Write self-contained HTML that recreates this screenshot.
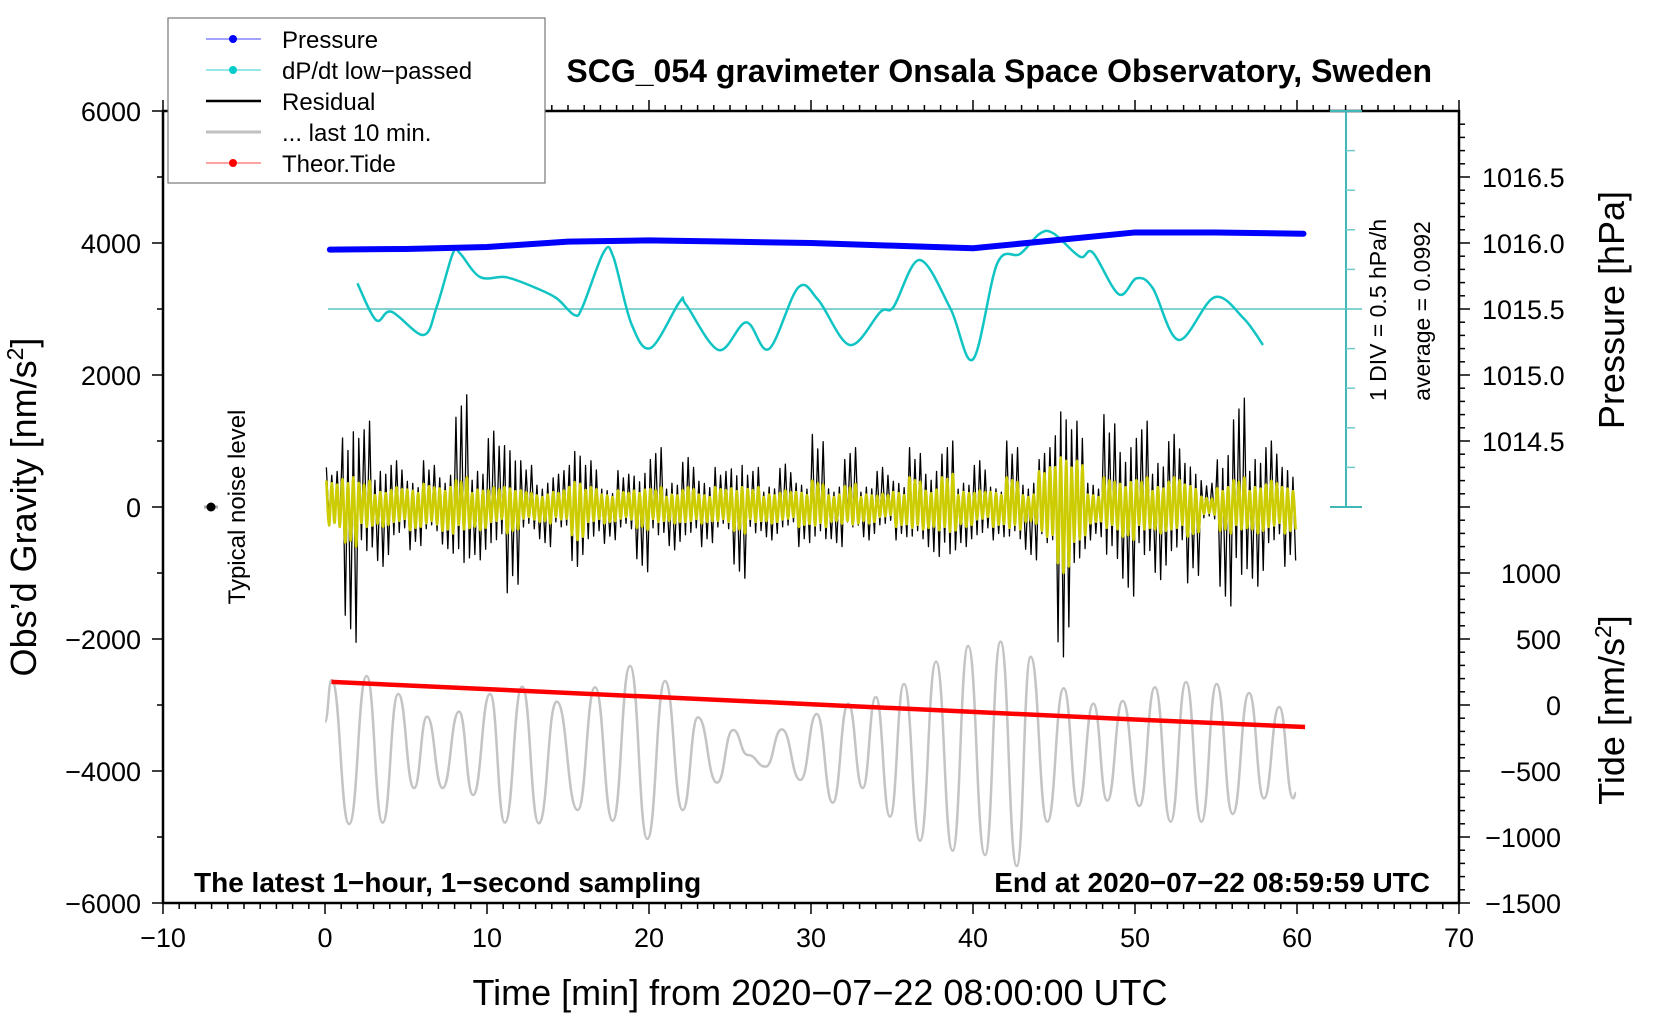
<!DOCTYPE html>
<html><head><meta charset="utf-8"><style>
body{margin:0;background:#fff}
svg{display:block;font-family:"Liberation Sans",Arial,sans-serif}
</style></head><body>
<svg id="chart" width="1660" height="1020" viewBox="0 0 1660 1020">
<g id="axes"></g>
<g id="series"></g>
<text x="1432" y="82" text-anchor="end" font-size="32" font-weight="bold">SCG_054 gravimeter Onsala Space Observatory, Sweden</text>
<text x="194" y="892" font-size="28" font-weight="bold">The latest 1−hour, 1−second sampling</text>
<text x="1430" y="892" text-anchor="end" font-size="28" font-weight="bold">End at 2020−07−22 08:59:59 UTC</text>
<text x="820" y="1005" text-anchor="middle" font-size="36">Time [min] from 2020−07−22 08:00:00 UTC</text>
<text transform="translate(36,507) rotate(-90)" text-anchor="middle" font-size="36">Obs’d Gravity [nm/s<tspan baseline-shift="super" font-size="23">2</tspan>]</text>
<text transform="translate(1624,310) rotate(-90)" text-anchor="middle" font-size="36">Pressure [hPa]</text>
<text transform="translate(1624,710) rotate(-90)" text-anchor="middle" font-size="36">Tide [nm/s<tspan baseline-shift="super" font-size="23">2</tspan>]</text>
<text transform="translate(245,507) rotate(-90)" text-anchor="middle" font-size="24">Typical noise level</text>
<line x1="204" y1="507" x2="218" y2="507" stroke="#aaa" stroke-width="3"/>
<circle cx="211" cy="507" r="4.5" fill="#000"/>
<text transform="translate(1386,310) rotate(-90)" text-anchor="middle" font-size="23">1 DIV = 0.5 hPa/h</text>
<text transform="translate(1430,311) rotate(-90)" text-anchor="middle" font-size="23">average = 0.0992</text>
<g>
<rect x="168" y="18" width="377" height="165" fill="#fff" stroke="#777" stroke-width="1.2"/>
<g><line x1="206" y1="39" x2="261" y2="39" stroke="#4444ff" stroke-width="1"/><circle cx="233" cy="39" r="4" fill="#0000ff"/><text x="282" y="48" font-size="24">Pressure</text></g>
<g><line x1="206" y1="70" x2="261" y2="70" stroke="#33cccc" stroke-width="1"/><circle cx="233" cy="70" r="4" fill="#00cccc"/><text x="282" y="79" font-size="24">dP/dt low−passed</text></g>
<g><line x1="206" y1="101" x2="261" y2="101" stroke="#000" stroke-width="2.5"/><text x="282" y="110" font-size="24">Residual</text></g>
<g><line x1="206" y1="132" x2="261" y2="132" stroke="#c0c0c0" stroke-width="3"/><text x="282" y="141" font-size="24">... last 10 min.</text></g>
<g><line x1="206" y1="163" x2="261" y2="163" stroke="#ff4444" stroke-width="1"/><circle cx="233" cy="163" r="4" fill="#ff0000"/><text x="282" y="172" font-size="24">Theor.Tide</text></g>
</g>
</svg>
<script>
// ---- data ----
const xTicks=[-10,0,10,20,30,40,50,60,70];
const gravTicks=[6000,4000,2000,0,-2000,-4000,-6000];
const pressTicks=[1016.5,1016.0,1015.5,1015.0,1014.5];
const tideTicks=[1000,500,0,-500,-1000,-1500];
const pressTimes=[0.3,5,10,15,20,25,30,35,40,45,50,55,60.4];
const pressValues=[1015.95,1015.955,1015.97,1016.01,1016.02,1016.01,1016.0,1015.98,1015.96,1016.02,1016.08,1016.08,1016.07];
const dpTimes=[2.0,3.15,4.1,6.07,6.9,7.9,8.33,9.57,11.2,13.06,14.3,15.4,15.9,17.2,17.8,18.9,20.1,21.9,22.3,24.3,26.0,27.4,29.2,30.45,32.4,34.3,35.1,36.7,38.6,40.0,41.5,42.9,44.1,44.96,46.6,47.4,49.0,50.1,51.1,52.7,54.9,56.7,57.9];
const dpValues=[0.424,-0.040,0.065,-0.229,0.128,0.807,0.803,0.503,0.500,0.361,0.234,0.023,0.128,0.815,0.756,-0.081,-0.393,0.191,0.150,-0.419,-0.069,-0.406,0.368,0.213,-0.355,0.065,0.128,0.718,0.108,-0.536,0.676,0.794,1.047,1.055,0.760,0.810,0.285,0.487,0.361,-0.292,0.247,-0.018,-0.355];
const resHigh=[600,1900,1300,900,700,650,700,800,1700,900,1150,1550,700,600,550,1400,700,450,550,850,900,600,750,650,600,1050,600,500,650,600,1100,500,900,500,600,650,900,900,1000,600,700,500,1000,600,900,2400,1300,600,1400,1500,1300,1100,1100,1100,400,1300,1650,1200,1000,1000];
const resLow=[-400,-2050,-1100,-900,-700,-650,-600,-700,-1400,-800,-900,-1300,-550,-600,-500,-900,-800,-550,-550,-980,-700,-650,-700,-600,-550,-1080,-650,-500,-500,-600,-800,-600,-500,-500,-450,-500,-800,-750,-1180,-600,-700,-500,-800,-800,-900,-2270,-1400,-500,-1300,-1350,-1200,-1100,-1100,-1150,-300,-1500,-1700,-1200,-900,-900];
const yellowAmp=[400,600,400,300,300,350,350,400,450,350,300,400,250,250,250,500,300,250,250,350,300,250,300,250,300,400,300,250,250,300,400,250,350,250,200,300,450,350,500,300,250,300,450,250,600,1000,700,250,450,500,450,400,450,450,150,400,450,400,400,400];
const grayTimes=[0,0.41,1.49,2.57,3.56,4.52,5.5,6.3,7.26,8.27,9.14,10.19,11.1,12.17,13.2,14.3,15.6,16.67,17.76,18.83,19.9,20.99,22.08,23.02,24.2,25.19,26.1,27.2,28.2,29.35,30.35,31.34,32.3,33.19,34.0,34.88,35.74,36.73,37.72,38.74,39.7,40.74,41.7,42.7,43.56,44.59,45.6,46.5,47.43,48.29,49.24,50.27,51.23,52.2,53.15,54.1,55.04,56.03,57.04,57.96,58.9,59.77,59.94];
const grayValues=[-3253,-2621,-4803,-2561,-4783,-2833,-4258,-3177,-4258,-3101,-4364,-2833,-4783,-2722,-4793,-2949,-4591,-2732,-4753,-2409,-5030,-2636,-4591,-3187,-4177,-3379,-3757,-3934,-3369,-4136,-3136,-4480,-2980,-4258,-2879,-4692,-2682,-5056,-2343,-5207,-2106,-5273,-2040,-5439,-2268,-4768,-2747,-4530,-2980,-4449,-2939,-4530,-2732,-4768,-2652,-4768,-2682,-4651,-2818,-4414,-3030,-4414,-4329];
const tideTimes=[0.4,10,20,30,40,50,60.5];
const tideValues=[175,120,63,6,-52,-110,-167];

// ---- scales ----
const X=t=>325+16.2*t;
const Y=v=>507-v*0.066;
const P=p=>243-(p-1016)*132;
const T=v=>705-v*0.132;
const C=v=>309-(v-0.0992)*79.2;
const NS="http://www.w3.org/2000/svg";
const axes=document.getElementById('axes'), series=document.getElementById('series');
function mk(tag,attrs,parent){const e=document.createElementNS(NS,tag);for(const k in attrs)e.setAttribute(k,attrs[k]);parent.appendChild(e);return e;}

let frame=mk('rect',{x:163,y:111,width:1296,height:792,fill:'none',stroke:'#000','stroke-width':2.5},axes);


for(let t=-10;t<=70;t++){
  const major=(t%10===0);
  mk('line',{x1:X(t),y1:903,x2:X(t),y2:903+(major?11:6),stroke:'#000','stroke-width':1.5},axes);
  mk('line',{x1:X(t),y1:111,x2:X(t),y2:111-(major?11:6),stroke:'#000','stroke-width':1.5},axes);
}
xTicks.forEach(t=>{
  const e=mk('text',{x:X(t),y:947,'text-anchor':'middle','font-size':27},axes);
  e.textContent=String(t).replace('-','−');
  
  
});
for(let v=-6000;v<=6000;v+=1000){
  const major=(v%2000===0);
  mk('line',{x1:163,y1:Y(v),x2:163-(major?11:6),y2:Y(v),stroke:'#000','stroke-width':1.5},axes);
}
gravTicks.forEach(v=>{
  const e=mk('text',{x:141,y:Y(v)+10,'text-anchor':'end','font-size':27},axes);
  e.textContent=String(v).replace('-','−');
  
  
});
for(let p=1016.9;p>=1013.9;p-=0.1){const y=P(p);if(y<111||y>507)continue;const maj=Math.abs(p*2-Math.round(p*2))<0.01;
  mk('line',{x1:1459,y1:y,x2:1459+(maj?11:6),y2:y,stroke:'#000','stroke-width':1.5},axes);}
for(let v=1500;v>=-1500;v-=100){const y=T(v);if(y<507||y>903)continue;const maj=(v%500===0);
  mk('line',{x1:1459,y1:y,x2:1459+(maj?11:6),y2:y,stroke:'#000','stroke-width':1.5},axes);}
pressTicks.forEach(p=>{
  const e=mk('text',{x:1482,y:P(p)+10,'font-size':27},axes);
  e.textContent=p.toFixed(1);
  
  
});
tideTicks.forEach(v=>{
  const e=mk('text',{x:1561,y:T(v)+10,'text-anchor':'end','font-size':27},axes);
  e.textContent=String(v).replace('-','−');
  
  
});
let sb=mk('g',{},axes);


mk('line',{x1:1346,y1:111,x2:1346,y2:507,stroke:'#40b8b8','stroke-width':2},sb);
mk('line',{x1:1330,y1:111,x2:1362,y2:111,stroke:'#40b8b8','stroke-width':2},sb);
mk('line',{x1:1330,y1:507,x2:1362,y2:507,stroke:'#40b8b8','stroke-width':2},sb);
for(let k=1;k<10;k++){if(k===5)continue;mk('line',{x1:1346,y1:111+k*39.6,x2:1355,y2:111+k*39.6,stroke:'#70cccc','stroke-width':1.5},sb);}
let base=mk('line',{x1:X(0)+3,y1:C(0.0992),x2:1362,y2:C(0.0992),stroke:'#5cc2c2','stroke-width':1.5},axes);



function smoothPath(xs,ys){
  let d=`M${xs[0]},${ys[0]}`;
  for(let i=0;i<xs.length-1;i++){
    const x0=xs[Math.max(i-1,0)],y0=ys[Math.max(i-1,0)],x1=xs[i],y1=ys[i],x2=xs[i+1],y2=ys[i+1],x3=xs[Math.min(i+2,xs.length-1)],y3=ys[Math.min(i+2,xs.length-1)];
    d+=` C${x1+(x2-x0)/6},${y1+(y2-y0)/6} ${x2-(x3-x1)/6},${y2-(y3-y1)/6} ${x2},${y2}`;
  }
  return d;
}
let gd=`M${X(grayTimes[0])},${Y(grayValues[0])}`;
for(let i=1;i<grayTimes.length;i++){const xa=X(grayTimes[i-1]),xb=X(grayTimes[i]),ya=Y(grayValues[i-1]),yb=Y(grayValues[i]);const dx=(xb-xa)/2;gd+=` C${xa+dx},${ya} ${xb-dx},${yb} ${xb},${yb}`;}
let gray=mk('path',{d:gd,fill:'none',stroke:'#c4c4c4','stroke-width':2.5},series);


let tide=mk('polyline',{points:tideTimes.map((t,i)=>X(t)+','+T(tideValues[i])).join(' '),fill:'none',stroke:'#ff0000','stroke-width':4.5},series);


const wpat=[1,0.55,0.8,0.45,0.9,0.6];
let rp=[];
for(let i=0;i<resHigh.length;i++){for(let k=0;k<6;k++){const w=wpat[(k+i)%6];const v=(k%2===0)?resHigh[i]*w:resLow[i]*w;rp.push(X(i+k/6+1/12)+','+Y(v));}}
let res=mk('polyline',{points:rp.join(' '),fill:'none',stroke:'#000','stroke-width':1.3,'stroke-linejoin':'round'},series);


const ypat=[1,0.7,0.9,0.6,0.85,0.75];
let yx=[],yy=[];
for(let i=0;i<yellowAmp.length;i++){for(let k=0;k<6;k++){const v=(k%2===0?1:-1)*yellowAmp[i]*ypat[(k+i)%6];yx.push(X(i+k/6+1/12));yy.push(Y(v));}}
let yel=mk('path',{d:smoothPath(yx,yy),fill:'none',stroke:'#cccc00','stroke-width':2.6},series);


let cy=mk('path',{d:smoothPath(dpTimes.map(X),dpValues.map(C)),fill:'none',stroke:'#11c4c4','stroke-width':2.5},series);


let pr=mk('polyline',{points:pressTimes.map((t,i)=>X(t)+','+P(pressValues[i])).join(' '),fill:'none',stroke:'#0000ff','stroke-width':6,'stroke-linecap':'round','stroke-linejoin':'round'},series);


</script>
</body></html>
